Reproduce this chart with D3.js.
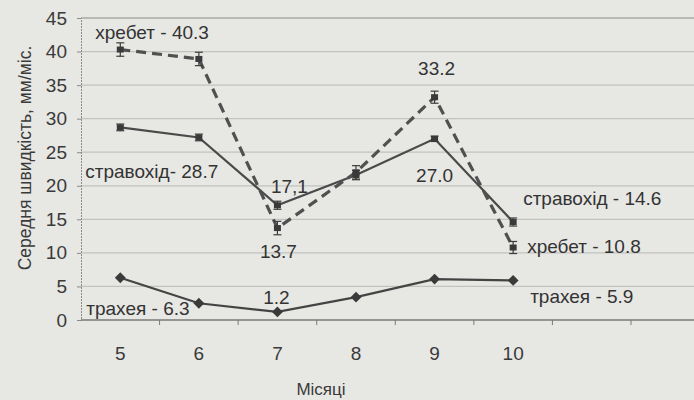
<!DOCTYPE html>
<html>
<head>
<meta charset="utf-8">
<script src="https://cdn.jsdelivr.net/npm/d3@7/dist/d3.min.js"></script>
<style>
  html, body { margin: 0; padding: 0; background: #e7e7e4; }
  svg { display: block; font-family: "Liberation Sans", Arial, sans-serif; }
</style>
</head>
<body>
<svg id="chart" width="694" height="400"></svg>
<script>
// months on the x axis
const months = [5, 6, 7, 8, 9, 10];
const yTicks = [0, 5, 10, 15, 20, 25, 30, 35, 40, 45];

// mean speed, mm / month
const spine = [40.3, 38.9, 13.7, 22.0, 33.2, 10.8];        // хребет
const esophagus = [28.7, 27.2, 17.1, 21.6, 27.0, 14.6];    // стравохід
const trachea = [6.3, 2.5, 1.2, 3.4, 6.1, 5.9];            // трахея

// error of the mean
const spineErr = [1.0, 1.0, 1.0, 1.0, 0.9, 0.9];
const esophagusErr = [0.5, 0.5, 0.6, 0.7, 0.4, 0.6];

// value labels: series, month index, text
const labels = [
    ['spine', 0, 'хребет - 40.3'],
    ['esophagus', 0, 'стравохід- 28.7'],
    ['esophagus', 2, '17,1'],
    ['spine', 2, '13.7'],
    ['trachea', 2, '1.2'],
    ['trachea', 0, 'трахея - 6.3'],
    ['spine', 4, '33.2'],
    ['esophagus', 4, '27.0'],
    ['esophagus', 5, 'стравохід - 14.6'],
    ['spine', 5, 'хребет - 10.8'],
    ['trachea', 5, 'трахея - 5.9'],
];

const Chart = new function () {

    const svg = d3.select('#chart');
    const W = 694;
    const plot = {left: 81, top: 18, bottom: 320};

    const series = {spine, esophagus, trachea};

    // label placement relative to its point, pixels
    const labelOffset = [
        {dx: -25, dy: -11, anchor: 'start'},
        {dx: -35, dy: 51, anchor: 'start'},
        {dx: 12, dy: -12, anchor: 'middle'},
        {dx: 1, dy: 30, anchor: 'middle'},
        {dx: -1, dy: -8, anchor: 'middle'},
        {dx: -34, dy: 37, anchor: 'start'},
        {dx: 2, dy: -22, anchor: 'middle'},
        {dx: 0, dy: 43, anchor: 'middle'},
        {dx: 10, dy: -17, anchor: 'start'},
        {dx: 14, dy: 5, anchor: 'start'},
        {dx: 17, dy: 23, anchor: 'start'},
    ];

    const x = d3.scaleLinear().domain([4.5, 11.5]).range([plot.left, 631]);
    const y = d3.scaleLinear().domain([0, 45]).range([plot.bottom, plot.top]);

    this.drawGrid = function () {
        svg.append('g')
            .selectAll('line')
            .data(yTicks.filter(d => d > 0))
            .join('line')
            .attr('x1', plot.left)
            .attr('x2', W)
            .attr('y1', d => y(d))
            .attr('y2', d => y(d))
            .attr('stroke', d => d === 45 ? '#8a8a8a' : '#c2c2c0')
            .attr('stroke-width', 1.2);
    };

    this.drawAxes = function () {
        const yAxis = svg.append('g')
            .attr('transform', `translate(${plot.left},0)`)
            .call(d3.axisLeft(y).tickValues(yTicks).tickSize(4).tickPadding(10));
        yAxis.select('.domain').attr('stroke', '#8a8a8a').attr('stroke-dasharray', '2,1');
        yAxis.selectAll('.tick line').attr('stroke', '#8a8a8a');
        yAxis.selectAll('text').attr('font-size', 19).attr('fill', '#3a3a3a');

        // boundaries between months
        const bounds = d3.range(5.5, 12, 1);
        svg.append('line')
            .attr('x1', plot.left).attr('x2', W)
            .attr('y1', plot.bottom).attr('y2', plot.bottom)
            .attr('stroke', '#7a7a7a').attr('stroke-width', 1.5);
        svg.append('g')
            .selectAll('line')
            .data(bounds)
            .join('line')
            .attr('x1', d => x(d)).attr('x2', d => x(d))
            .attr('y1', plot.bottom).attr('y2', plot.bottom + 5)
            .attr('stroke', '#7a7a7a');

        svg.append('g')
            .selectAll('text')
            .data(months)
            .join('text')
            .attr('x', d => x(d))
            .attr('y', 360)
            .attr('text-anchor', 'middle')
            .attr('font-size', 19)
            .attr('fill', '#3a3a3a')
            .text(d => d);

        svg.append('text')
            .attr('x', 321)
            .attr('y', 395)
            .attr('text-anchor', 'middle')
            .attr('font-size', 17)
            .attr('fill', '#3a3a3a')
            .text('Місяці');

        svg.append('text')
            .attr('transform', 'translate(31,158) rotate(-90)')
            .attr('text-anchor', 'middle')
            .attr('font-size', 17.5)
            .attr('fill', '#3a3a3a')
            .text('Середня швидкість, мм/міс.');
    };

    this.drawSeries = function () {
        const line = d3.line()
            .x((d, i) => x(months[i]))
            .y(d => y(d));

        // error bars
        const errBars = (vals, errs) => {
            const g = svg.append('g').attr('stroke', '#3c3c3c').attr('stroke-width', 1.2);
            vals.forEach((v, i) => {
                const cx = x(months[i]);
                g.append('line').attr('x1', cx).attr('x2', cx)
                    .attr('y1', y(v - errs[i])).attr('y2', y(v + errs[i]));
                [v - errs[i], v + errs[i]].forEach(e => {
                    g.append('line').attr('x1', cx - 4).attr('x2', cx + 4)
                        .attr('y1', y(e)).attr('y2', y(e));
                });
            });
        };

        svg.append('path')
            .datum(esophagus)
            .attr('d', line)
            .attr('fill', 'none')
            .attr('stroke', '#4a4a4a')
            .attr('stroke-width', 2.2);

        svg.append('path')
            .datum(spine)
            .attr('d', line)
            .attr('fill', 'none')
            .attr('stroke', '#505050')
            .attr('stroke-width', 3.2)
            .attr('stroke-dasharray', '10,6');

        svg.append('path')
            .datum(trachea)
            .attr('d', line)
            .attr('fill', 'none')
            .attr('stroke', '#444')
            .attr('stroke-width', 2.2);

        errBars(spine, spineErr);
        errBars(esophagus, esophagusErr);

        [spine, esophagus].forEach(vals => {
            svg.append('g')
                .selectAll('rect')
                .data(vals)
                .join('rect')
                .attr('x', (d, i) => x(months[i]) - 3.5)
                .attr('y', d => y(d) - 3)
                .attr('width', 7)
                .attr('height', 6)
                .attr('fill', '#3a3a3a');
        });

        svg.append('g')
            .selectAll('path')
            .data(trachea)
            .join('path')
            .attr('d', d3.symbol(d3.symbolDiamond2, 75))
            .attr('transform', (d, i) => `translate(${x(months[i])},${y(d)})`)
            .attr('fill', '#3a3a3a');
    };

    this.drawLabels = function () {
        svg.append('g')
            .selectAll('text')
            .data(labels)
            .join('text')
            .attr('x', (d, i) => x(months[d[1]]) + labelOffset[i].dx)
            .attr('y', (d, i) => y(series[d[0]][d[1]]) + labelOffset[i].dy)
            .attr('text-anchor', (d, i) => labelOffset[i].anchor)
            .attr('font-size', 19)
            .attr('fill', '#333')
            .text(d => d[2]);
    };

    this.init = function () {
        this.drawGrid();
        this.drawAxes();
        this.drawSeries();
        this.drawLabels();
    };
};

Chart.init();
</script>
</body>
</html>
